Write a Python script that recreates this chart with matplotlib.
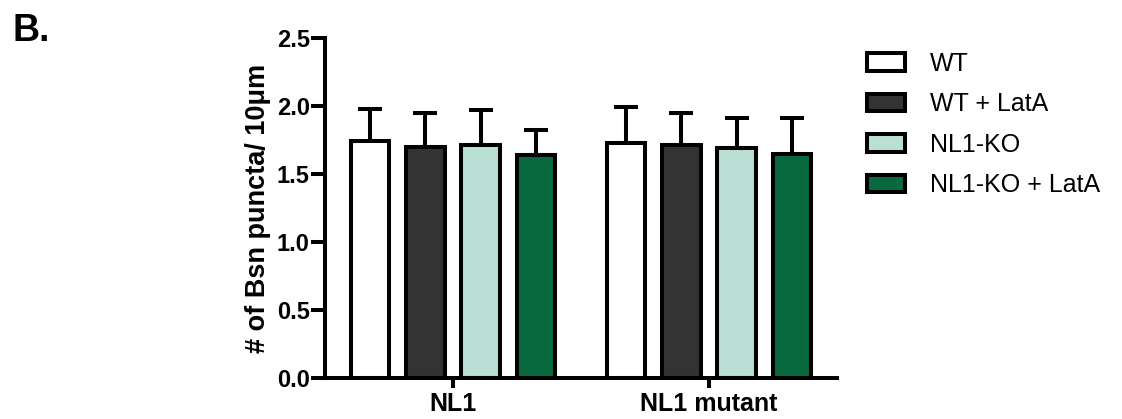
import matplotlib.pyplot as plt
import numpy as np

plt.rcParams['font.family'] = ['Liberation Sans', 'DejaVu Sans']

groups = ['NL1', 'NL1 mutant']
conditions = ['WT', 'WT + LatA', 'NL1-KO', 'NL1-KO + LatA']
colors = ['#ffffff', '#333333', '#badfd5', '#08693f']

# means and SD (upper error only), one list per condition: [NL1, NL1 mutant]
means = {
    'WT': [1.74, 1.73],
    'WT + LatA': [1.70, 1.71],
    'NL1-KO': [1.71, 1.69],
    'NL1-KO + LatA': [1.64, 1.65],
}
errors = {
    'WT': [0.24, 0.26],
    'WT + LatA': [0.25, 0.24],
    'NL1-KO': [0.26, 0.22],
    'NL1-KO + LatA': [0.18, 0.26],
}

fig = plt.figure(figsize=(11.22, 4.19), dpi=100)
ax = fig.add_axes([0.2897, 0.0979, 0.4563, 0.8114])

x = np.arange(len(groups))
step = 0.216
width = 0.15
lw = 2.9

for i, cond in enumerate(conditions):
    pos = x + (i - 1.5) * step
    m = np.array(means[cond])
    e = np.array(errors[cond])
    ax.errorbar(pos, m, yerr=[np.zeros_like(e), e], fmt='none', ecolor='black',
                elinewidth=lw, capsize=8.3, capthick=lw, zorder=1)
    ax.bar(pos, m, width=width, color=colors[i], edgecolor='black',
           linewidth=lw, zorder=2, label=cond)

ax.set_xlim(-0.5, 1.5)
ax.set_ylim(0, 2.5)
ax.set_yticks([0.0, 0.5, 1.0, 1.5, 2.0, 2.5])
ax.set_yticklabels(['0.0', '0.5', '1.0', '1.5', '2.0', '2.5'])
ax.set_xticks(x)
ax.set_xticklabels(groups)

for side in ['top', 'right']:
    ax.spines[side].set_visible(False)
for side in ['left', 'bottom']:
    ax.spines[side].set_linewidth(lw)

ax.tick_params(axis='y', length=10, width=lw, labelsize=17, pad=1)
ax.tick_params(axis='x', length=7, width=lw, labelsize=18, pad=3)
for lab in ax.get_xticklabels() + ax.get_yticklabels():
    lab.set_fontweight('bold')

ax.set_ylabel('# of Bsn puncta/ 10μm', fontsize=19.5, fontweight='bold', labelpad=4)

handles, labels = ax.get_legend_handles_labels()
fig.legend(handles, labels, loc='upper left', bbox_to_anchor=(0.764, 0.9),
           borderaxespad=0, frameon=False, fontsize=18, handlelength=1.5,
           handleheight=0.7, labelspacing=0.66, handletextpad=1.0)

fig.text(0.011, 0.97, 'B.', fontsize=27, fontweight='bold', va='top', ha='left')

fig.savefig('out.png', dpi=100)
